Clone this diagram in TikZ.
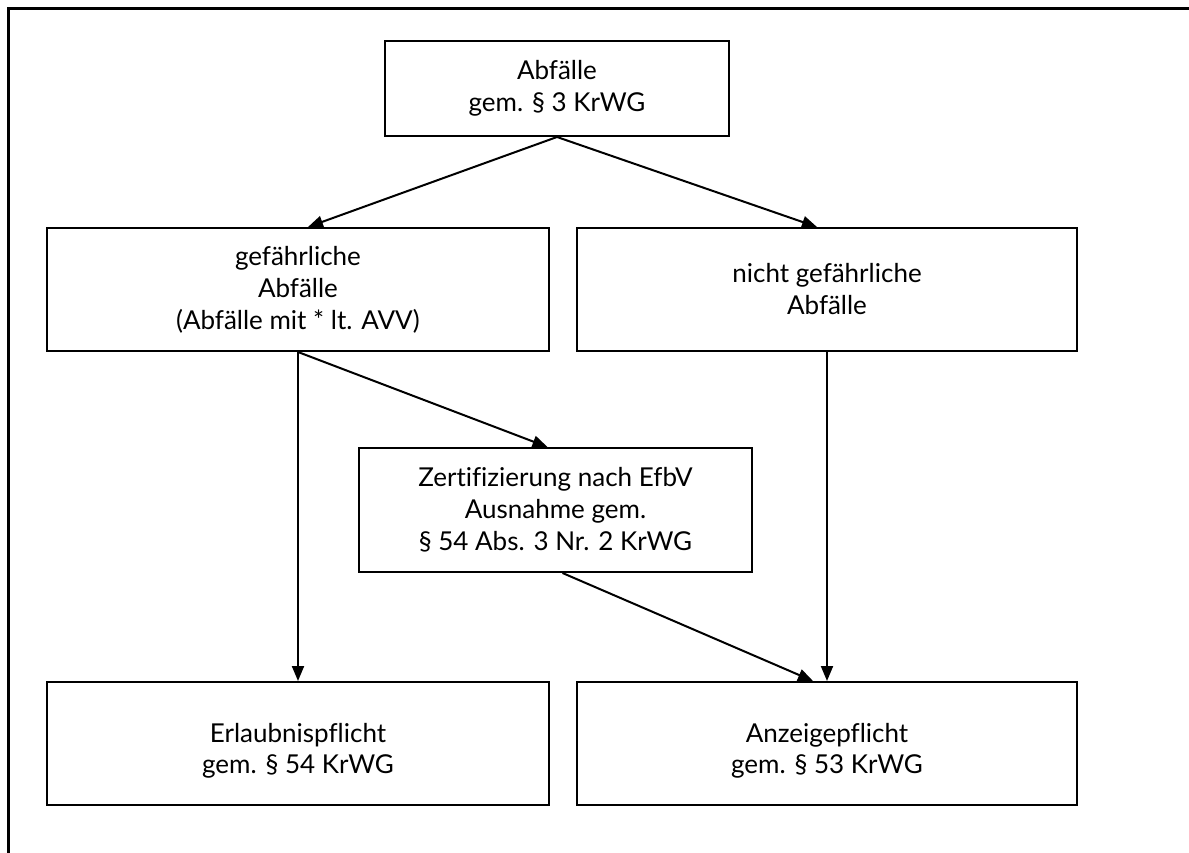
\documentclass[tikz,border=0pt]{standalone}
\usepackage{fontspec}
\setmainfont[Ligatures=NoCommon]{Lato}
\usetikzlibrary{arrows.meta}
\begin{document}
\begin{tikzpicture}[x=1pt,y=-1pt,
  box/.style={draw=black, line width=2pt, rectangle, align=center, inner sep=0pt,
    font=\fontsize{26}{32}\selectfont},
  arr/.style={line width=2pt, -{Triangle[length=15pt,width=12pt]}},
  frame/.style={line width=3pt}]
\useasboundingbox (0,0) rectangle (1189,853);
\fill[white] (0,0) rectangle (1189,853);
\coordinate (fTR) at (1189,9);
\coordinate (fTL) at (8,9);
\coordinate (fBL) at (8,853);
\draw[frame] (fTR) -- (fTL) -- (fBL);

\node[box, minimum width=344pt, minimum height=95pt] (top) at (557,88.5)
  {Abfälle\\gem. § 3 KrWG};
\node[box, minimum width=502pt, minimum height=123pt] (haz) at (298,289.5)
  {gefährliche\\Abfälle\\(Abfälle mit * lt. AVV)};
\node[box, minimum width=500pt, minimum height=123pt] (nonhaz) at (827,289.5)
  {nicht gefährliche\\Abfälle};
\node[box, minimum width=393pt, minimum height=124pt] (cert) at (555.5,510)
  {Zertifizierung nach EfbV\\Ausnahme gem.\\§ 54 Abs. 3 Nr. 2 KrWG};
\node[box, minimum width=502pt, minimum height=123pt,
  label={[font=\fontsize{26}{31}\selectfont, align=center, yshift=-7pt]center:Erlaubnispflicht\\gem. § 54 KrWG}] (erl) at (298,743.5) {};
\node[box, minimum width=500pt, minimum height=123pt,
  label={[font=\fontsize{26}{31}\selectfont, align=center, yshift=-7pt]center:Anzeigepflicht\\gem. § 53 KrWG}] (anz) at (827,743.5) {};

\draw[arr] (top.south) -- ([xshift=10pt]haz.north);
\draw[arr] (top.south) -- ([xshift=-10pt]nonhaz.north);
\draw[arr] (haz.south) -- (erl.north);
\draw[arr] (haz.south) -- ([xshift=-8pt]cert.north);
\draw[arr] (nonhaz.south) -- (anz.north);
\draw[arr] ([xshift=7pt]cert.south) -- ([xshift=-14pt]anz.north);
\end{tikzpicture}
\end{document}
